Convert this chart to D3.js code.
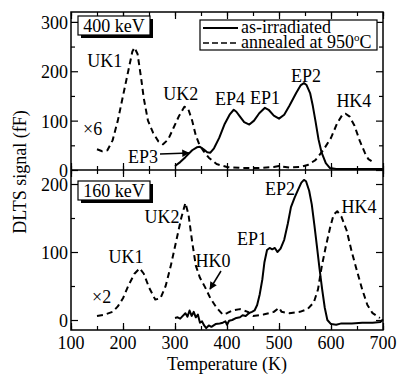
<!DOCTYPE html>
<html>
<head>
<meta charset="utf-8">
<script src="https://cdn.jsdelivr.net/npm/d3@7"></script>
<style>
  body { margin: 0; background: #fff; }
  svg text { font-family: "Liberation Serif", "Times New Roman", serif; fill: #000; }
</style>
</head>
<body>
<div class="graph"></div>
<script>
// ---- data (T in K, signal in fF) ----
var xTicks = [100, 200, 300, 400, 500, 600, 700];
var yTicksTop = [0, 100, 200, 300];
var yTicksBottom = [0, 100, 200];

// 400 keV, annealed (x6)
var topAnnealed = [
  [150,42],[160,38],[170,40],[180,60],[190,100],[200,150],[210,200],[218,240],[222,248],
  [228,235],[235,185],[240,145],[248,100],[258,75],[268,58],[277,52],[287,62],[297,85],
  [308,110],[318,128],[325,125],[333,100],[340,70],[347,51],[355,38],[365,25],[380,12],
  [400,6],[430,4],[460,4],[490,6],[500,8],[520,5],[540,6],[555,10],[570,20],[585,40],
  [600,65],[612,95],[622,112],[628,114],[636,108],[645,90],[655,60],[665,35],[672,22],[678,18]
];
// 400 keV, as-irradiated
var topIrradiated = [
  [300,8],[310,16],[320,26],[333,40],[342,46],[348,47],[355,42],[362,36],[368,35],[375,44],
  [385,65],[395,92],[405,112],[413,122],[418,118],[425,108],[433,97],[443,92],[452,100],
  [462,115],[473,126],[480,122],[490,110],[500,104],[510,112],[520,130],[533,156],[542,172],
  [548,176],[553,172],[560,155],[565,130],[570,100],[576,62],[582,35],[590,14],[598,4],
  [610,2],[650,2],[700,2]
];
// 160 keV, annealed (x2)
var botAnnealed = [
  [150,6],[165,8],[180,12],[190,20],[200,32],[210,50],[222,68],[232,76],[240,68],[250,48],
  [262,30],[272,32],[282,50],[292,80],[302,115],[312,150],[320,172],[326,155],[333,115],
  [340,80],[348,62],[358,48],[368,32],[380,18],[392,8],[400,10],[410,14],[425,16],[440,12],
  [450,6],[470,8],[490,12],[500,18],[505,12],[520,10],[540,12],[555,16],[567,26],[575,45],
  [582,78],[590,108],[598,135],[605,155],[612,160],[620,152],[630,132],[640,100],[650,72],
  [660,45],[670,22],[680,10],[694,3]
];
// 160 keV, as-irradiated
var botIrradiated = [
  [300,3],[305,4],[310,2],[315,6],[320,10],[324,5],[328,14],[332,6],[336,12],[340,4],[344,8],
  [348,-4],[352,-2],[356,-8],[360,-12],[365,-8],[370,-10],[378,-6],[386,-5],[392,-4],[397,-2],
  [400,-7],[404,-1],[410,0],[418,3],[425,4],[430,7],[436,6],[442,10],[448,12],[453,14],
  [458,22],[463,38],[468,60],[472,85],[477,103],[482,106],[487,104],[492,106],[497,100],
  [503,105],[510,118],[517,142],[523,166],[530,180],[537,192],[543,202],[548,206],[552,204],
  [558,190],[563,170],[568,140],[573,108],[578,75],[583,45],[588,18],[593,0],[600,-6],
  [610,-7],[620,-5],[640,-5],[660,-4],[680,-4],[695,-3],[700,1]
];

// peak labels [T, value at baseline, text]
var topLabels = [[165,208,"UK1"],[311,142,"UK2"],[406,132,"EP4"],[473,134,"EP1"],[552,178,"EP2"],[644,128,"HK4"]];
var botLabels = [[206,84,"UK1"],[275,143,"UK2"],[373,78,"HK0"],[448,110,"EP1"],[502,184,"EP2"],[654,157,"HK4"]];

// ---- layout ----
var W = 398, H = 375;
var mLeft = 71, mRight = 383, mTop = 12, mMid = 170, mBottom = 330;
var FONT = "'Liberation Serif', 'Times New Roman', serif";

var svg = d3.select(".graph").append("svg").attr("width", W).attr("height", H)
  .attr("font-family", FONT);

var x = d3.scaleLinear().domain([100, 700]).range([mLeft, mRight]);
var yT = d3.scaleLinear().domain([0, 320]).range([mMid, mTop]);
var yB = d3.scaleLinear().domain([-14.7, 220.6]).range([mBottom, mMid]);

var minorX = d3.range(100, 701, 50);

function drawAxes(y, yMaj, yMin, y0, y1) {
  // left
  svg.append("g").attr("transform", "translate(" + mLeft + ",0)")
    .call(d3.axisRight(y).tickValues(yMin).tickSize(4).tickFormat(""));
  svg.append("g").attr("class", "ylab").attr("transform", "translate(" + mLeft + ",0)")
    .call(d3.axisRight(y).tickValues(yMaj).tickSize(7).tickFormat(d3.format("d")));
  // right
  svg.append("g").attr("transform", "translate(" + mRight + ",0)")
    .call(d3.axisLeft(y).tickValues(yMin).tickSize(4).tickFormat(""));
  svg.append("g").attr("transform", "translate(" + mRight + ",0)")
    .call(d3.axisLeft(y).tickValues(yMaj).tickSize(7).tickFormat(""));
  // top edge ticks (pointing down)
  svg.append("g").attr("transform", "translate(0," + y1 + ")")
    .call(d3.axisBottom(x).tickValues(minorX).tickSize(4).tickFormat(""));
  svg.append("g").attr("transform", "translate(0," + y1 + ")")
    .call(d3.axisBottom(x).tickValues(xTicks).tickSize(7).tickFormat(""));
  // bottom edge ticks (pointing up)
  svg.append("g").attr("transform", "translate(0," + y0 + ")")
    .call(d3.axisTop(x).tickValues(minorX).tickSize(4).tickFormat(""));
  svg.append("g").attr("transform", "translate(0," + y0 + ")")
    .call(d3.axisTop(x).tickValues(xTicks).tickSize(7).tickFormat(""));
}

drawAxes(yT, yTicksTop, d3.range(50, 320, 100), mMid, mTop);
drawAxes(yB, yTicksBottom, [50, 150], mBottom, mMid);

// y tick labels moved to the outside of the frame
svg.selectAll(".ylab .tick text")
  .attr("x", -3).attr("dy", "0.36em").attr("text-anchor", "end").attr("font-size", 18);

svg.selectAll("g").attr("font-family", FONT).attr("font-size", 18);
svg.selectAll(".domain").remove();
svg.selectAll(".tick line").attr("stroke", "#000").attr("stroke-width", 1.2);

// frame
svg.append("rect").attr("x", mLeft).attr("y", mTop).attr("width", mRight - mLeft).attr("height", mBottom - mTop)
  .attr("fill", "none").attr("stroke", "#000").attr("stroke-width", 1.5);
svg.append("line").attr("x1", mLeft).attr("x2", mRight).attr("y1", mMid).attr("y2", mMid)
  .attr("stroke", "#000").attr("stroke-width", 1.5);

// x tick labels
svg.append("g").selectAll("text").data(xTicks).enter().append("text")
  .attr("x", d => x(d)).attr("y", mBottom + 19).attr("text-anchor", "middle")
  .attr("font-size", 18).text(d => d);

// axis titles
svg.append("text").attr("x", (mLeft + mRight) / 2).attr("y", 370).attr("text-anchor", "middle")
  .attr("font-size", 18).text("Temperature (K)");
svg.append("text").attr("transform", "translate(26," + 172 + ") rotate(-90)")
  .attr("text-anchor", "middle").attr("font-size", 18).text("DLTS signal (fF)");

// curves
function curve(data, y, dashed) {
  var line = d3.line().x(d => x(d[0])).y(d => y(d[1]));
  svg.append("path").datum(data).attr("d", line)
    .attr("fill", "none").attr("stroke", "#000").attr("stroke-width", 2)
    .attr("stroke-linejoin", "round")
    .attr("stroke-dasharray", dashed ? "6,4" : null);
}
curve(topAnnealed, yT, true);
curve(topIrradiated, yT, false);
curve(botAnnealed, yB, true);
curve(botIrradiated, yB, false);

// peak labels
function labels(list, y) {
  svg.append("g").selectAll("text").data(list).enter().append("text")
    .attr("x", d => x(d[0])).attr("y", d => y(d[1])).attr("text-anchor", "middle")
    .attr("font-size", 18).text(d => d[2]);
}
labels(topLabels, yT);
labels(botLabels, yB);

svg.append("text").attr("x", 83).attr("y", 135).attr("font-size", 18).text("\u00d76");
svg.append("text").attr("x", 92).attr("y", 303).attr("font-size", 18).text("\u00d72");
svg.append("text").attr("x", 128).attr("y", 163).attr("font-size", 18).text("EP3");

// arrows
svg.append("defs").append("marker").attr("id", "ah").attr("viewBox", "0 0 10 10")
  .attr("refX", 9).attr("refY", 5).attr("markerWidth", 7).attr("markerHeight", 5)
  .attr("orient", "auto").append("path").attr("d", "M0,0L10,5L0,10z").attr("fill", "#000");
svg.append("line").attr("x1", 160).attr("y1", 154).attr("x2", 189).attr("y2", 153)
  .attr("stroke", "#000").attr("stroke-width", 1.5).attr("marker-end", "url(#ah)");
svg.append("line").attr("x1", 221).attr("y1", 271).attr("x2", 210).attr("y2", 289)
  .attr("stroke", "#000").attr("stroke-width", 1.5).attr("marker-end", "url(#ah)");

// energy boxes
function energyBox(bx, by, txt) {
  svg.append("rect").attr("x", bx + 3).attr("y", by + 3).attr("width", 72).attr("height", 19).attr("fill", "#000");
  svg.append("rect").attr("x", bx).attr("y", by).attr("width", 72).attr("height", 19)
    .attr("fill", "#fff").attr("stroke", "#000").attr("stroke-width", 1.2);
  svg.append("text").attr("x", bx + 36).attr("y", by + 16).attr("text-anchor", "middle")
    .attr("font-size", 18).text(txt);
}
energyBox(78, 16, "400 keV");
energyBox(78, 181, "160 keV");

// legend
var lg = svg.append("g");
lg.append("rect").attr("x", 200).attr("y", 20).attr("width", 177).attr("height", 30)
  .attr("fill", "#fff").attr("stroke", "#000").attr("stroke-width", 1.2);
lg.append("line").attr("x1", 203).attr("x2", 238).attr("y1", 28).attr("y2", 28)
  .attr("stroke", "#000").attr("stroke-width", 2);
lg.append("line").attr("x1", 203).attr("x2", 238).attr("y1", 43).attr("y2", 43)
  .attr("stroke", "#000").attr("stroke-width", 1.5).attr("stroke-dasharray", "6,3");
lg.append("text").attr("x", 241).attr("y", 33).attr("font-size", 18).text("as-irradiated");
var t2 = lg.append("text").attr("x", 241).attr("y", 48).attr("font-size", 18);
t2.append("tspan").text("annealed at 950");
t2.append("tspan").attr("font-size", 11).attr("dy", -7).text("o");
t2.append("tspan").attr("dy", 7).text("C");
</script>
</body>
</html>
